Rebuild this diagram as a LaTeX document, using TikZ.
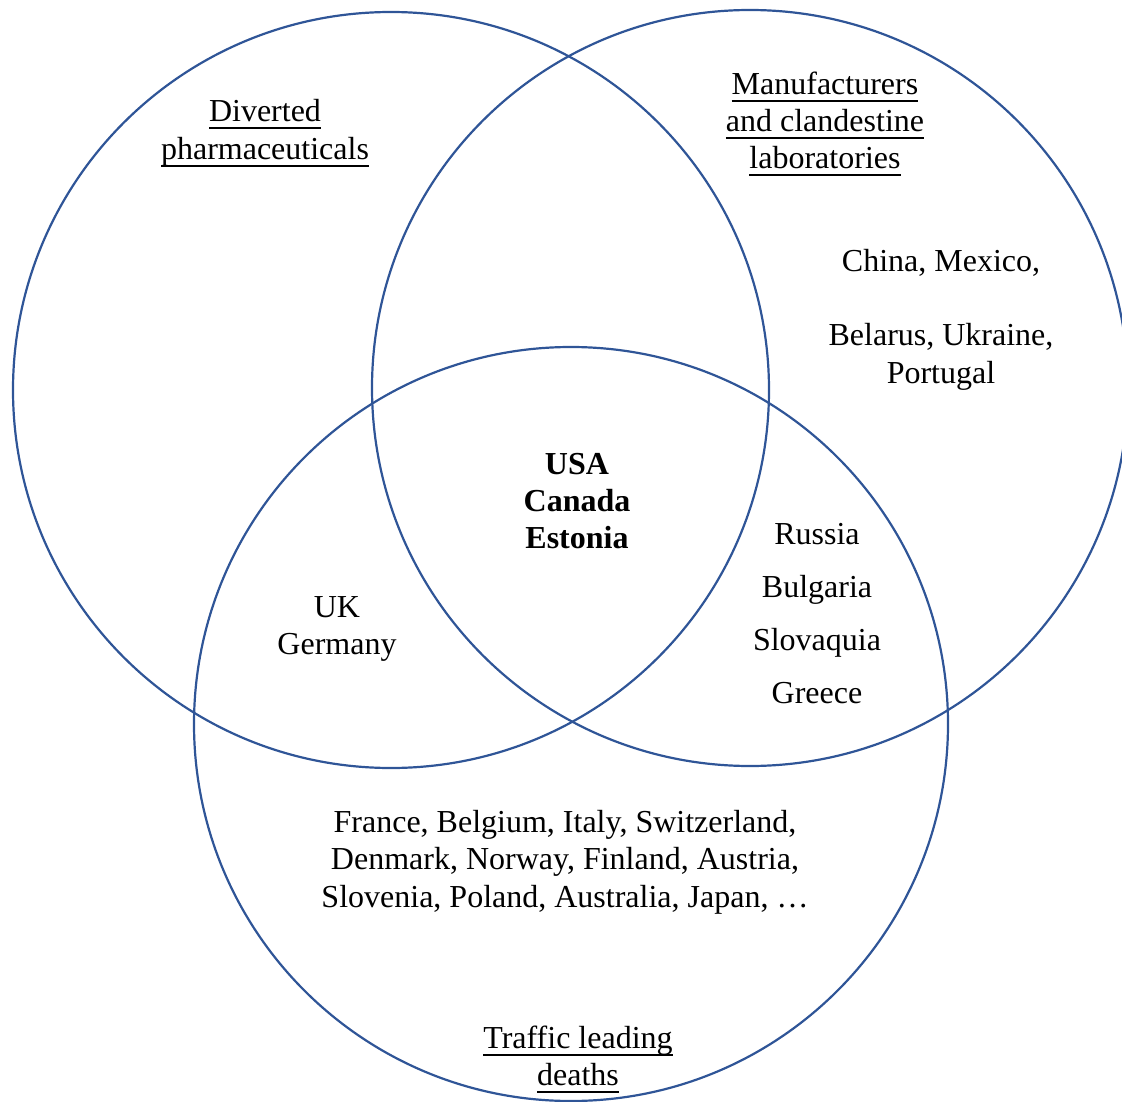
\documentclass[tikz,border=0pt]{standalone}
\usepackage{fontspec}
\setmainfont{Liberation Serif}
\definecolor{vennblue}{HTML}{2F5597}
\tikzset{
  ring/.style={draw=vennblue, line width=2.2pt},
  txt/.style={anchor=base, inner sep=0pt, font=\fontsize{32}{37}\selectfont},
  btxt/.style={txt, font=\fontsize{32}{37}\selectfont\bfseries}
}
\newcommand{\myul}[1]{\setbox0\hbox{#1}\rlap{\rule[-7.5pt]{\wd0}{2pt}}\box0}
\begin{document}
\begin{tikzpicture}[x=1pt,y=-1pt]
\useasboundingbox (0,0) rectangle (1122,1102);
\draw[ring] (391,390) circle[radius=378] coordinate (cl);
\draw[ring] (750,388) circle[radius=378] coordinate (cr);
\draw[ring] (571,724) circle[radius=377] coordinate (cb);
% labels
\node[txt] (d1) at (265,122) {\myul{Diverted}};
\node[txt] (d2) at (265,160) {\myul{pharmaceuticals}};
\node[txt] (m1) at (825,95) {\myul{Manufacturers}};
\node[txt] (m2) at (825,132) {\myul{and clandestine}};
\node[txt] (m3) at (825,169) {\myul{laboratories}};
\node[txt] (c1) at (941,272) {China, Mexico,};
\node[txt] (c2) at (941,345) {Belarus, Ukraine,};
\node[txt] (c3) at (941,383) {Portugal};
\node[btxt] (u1) at (577,474) {USA};
\node[btxt] (u2) at (577,511) {Canada};
\node[btxt] (u3) at (577,548) {Estonia};
\node[txt] (g1) at (337,617) {UK};
\node[txt] (g2) at (337,654) {Germany};
\node[txt] (r1) at (817,544) {Russia};
\node[txt] (r2) at (817,597) {Bulgaria};
\node[txt] (r3) at (817,650) {Slovaquia};
\node[txt] (r4) at (817,703) {Greece};
\node[txt] (f1) at (565,832) {France, Belgium, Italy, Switzerland,};
\node[txt] (f2) at (565,869) {Denmark, Norway, Finland, Austria,};
\node[txt] (f3) at (565,907) {Slovenia, Poland, Australia, Japan, …};
\node[txt] (t1) at (578,1048) {\myul{Traffic leading}};
\node[txt] (t2) at (578,1085) {\myul{deaths}};
\end{tikzpicture}
\end{document}
